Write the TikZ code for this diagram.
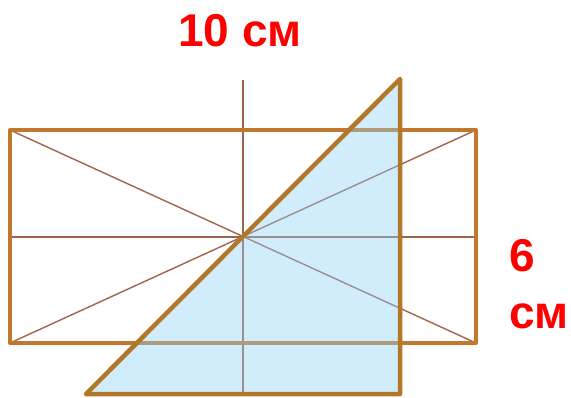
\documentclass[tikz,border=0pt]{standalone}
\usepackage{fontspec}
\setmainfont{Liberation Sans}
\usepackage{xcolor}
\usetikzlibrary{positioning,calc}
\definecolor{rectedge}{RGB}{194,120,44}
\definecolor{triedge}{RGB}{178,120,42}
\definecolor{guide}{RGB}{160,100,78}
\definecolor{trifill}{RGB}{140,210,245}
\definecolor{labred}{RGB}{255,0,0}

\begin{document}
\begin{tikzpicture}[x=1pt,y=-1pt,
    guideline/.style={guide,line width=1.4pt},
    rectline/.style={rectedge,line width=4pt,line join=round},
    triline/.style={triedge,line width=4.5pt,line join=round},
    sizelab/.style={labred,font=\fontsize{46}{50}\selectfont\bfseries,inner sep=0pt}]
  \useasboundingbox (0,0) rectangle (571,397);
  % corners and centre
  \coordinate (nw) at (10,130);
  \coordinate (ne) at (476,130);
  \coordinate (se) at (476,343);
  \coordinate (sw) at (10,343);
  \coordinate (o) at (243,237);
  \coordinate (vtop) at (243,80);
  \coordinate (vbot) at (243,393);
  \coordinate (hl) at (10,237);
  \coordinate (hr) at (476,237);
  % triangle
  \coordinate (ta) at (400,79);
  \coordinate (tb) at (400,394);
  \coordinate (tc) at (86,394);
  % guide lines
  \draw[guideline] (vtop) -- (vbot);
  \draw[guideline] (hl) -- (hr);
  \draw[guideline] (nw) -- (se);
  \draw[guideline] (sw) -- (ne);
  \draw[rectline] (nw) rectangle (se);
  \fill[trifill,fill opacity=0.4] (ta) -- (tb) -- (tc) -- cycle;
  \draw[triline] (ta) -- (tb) -- (tc) -- cycle;
  % labels
  \node[sizelab] (top) at (240,31) {10 см};
  \node[sizelab] (six) at (522,256) {6};
  \node[sizelab] (cm) at (539,316) {см};
\end{tikzpicture}
\end{document}
